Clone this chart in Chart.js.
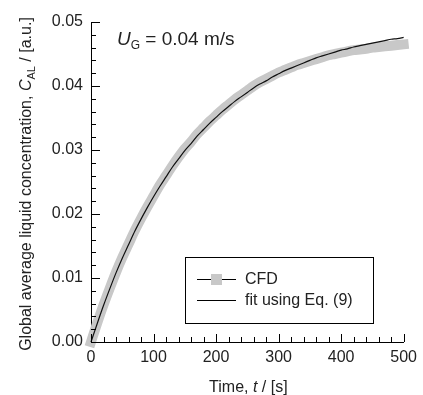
<!DOCTYPE html>
<html>
<head>
<meta charset="utf-8">
<script src="https://cdn.jsdelivr.net/npm/chart.js@4.4.0/dist/chart.umd.min.js"></script>
<style>
  html, body { margin: 0; padding: 0; background: #fff; }
  canvas { display: block; }
</style>
</head>
<body>
<canvas id="grafico" width="423" height="395"></canvas>
<script>
// === DADOS ===
const tempo = [0, 10, 20, 30, 40, 50, 60, 70, 80, 90, 100, 110, 120, 130, 140, 150, 160, 170, 180, 190,
  200, 210, 220, 230, 240, 250, 260, 270, 280, 290, 300, 310, 320, 330, 340, 350, 360, 370, 380, 390,
  400, 410, 420, 430, 440, 450, 460, 470, 480, 490, 500];

const cfd = [0.0000, 0.0030, 0.0058, 0.0084, 0.0109, 0.0132, 0.0153, 0.0174, 0.0193, 0.0211,
  0.0228, 0.0245, 0.0260, 0.0275, 0.0289, 0.0302, 0.0313, 0.0325, 0.0335, 0.0345,
  0.0354, 0.0363, 0.0371, 0.0379, 0.0386, 0.0393, 0.0400, 0.0406, 0.0411, 0.0416,
  0.0421, 0.0425, 0.0429, 0.0433, 0.0436, 0.0439, 0.0442, 0.0445, 0.0448, 0.0450,
  0.0452, 0.0454, 0.0456, 0.0457, 0.0458, 0.0460, 0.0461, 0.0462, 0.0463, 0.0464, 0.0465];

const ajuste = [0.0000, 0.0029, 0.0057, 0.0083, 0.0108, 0.0131, 0.0152, 0.0173, 0.0192, 0.0210,
  0.0227, 0.0243, 0.0258, 0.0273, 0.0286, 0.0299, 0.0310, 0.0322, 0.0332, 0.0342,
  0.0351, 0.0360, 0.0368, 0.0376, 0.0383, 0.0390, 0.0397, 0.0403, 0.0408, 0.0414,
  0.0419, 0.0424, 0.0428, 0.0432, 0.0436, 0.0440, 0.0444, 0.0447, 0.0450, 0.0453,
  0.0456, 0.0458, 0.0461, 0.0463, 0.0465, 0.0467, 0.0469, 0.0471, 0.0473, 0.0474, 0.0476];

const marcasX = [0, 20, 40, 60, 80, 100, 120, 140, 160, 180, 200, 220, 240, 260, 280, 300,
  320, 340, 360, 380, 400, 420, 440, 460, 480, 500];
const marcasY = [0, 0.002, 0.004, 0.006, 0.008, 0.01, 0.012, 0.014, 0.016, 0.018, 0.02,
  0.022, 0.024, 0.026, 0.028, 0.03, 0.032, 0.034, 0.036, 0.038, 0.04,
  0.042, 0.044, 0.046, 0.048, 0.05];

const legendas = ["CFD", "fit using Eq. (9)"];

const FONTE = '"Liberation Sans", Arial, sans-serif';
const CINZA = "#c8c8c8";

// === helper: escreve trechos com estilos diferentes ===
function escreveTrechos(ctx, trechos, x, y) {
  let px = x;
  trechos.forEach((t) => {
    ctx.font = (t.italic ? "italic " : "") + t.size + "px " + FONTE;
    ctx.fillText(t.text, px, y + (t.dy || 0));
    px += ctx.measureText(t.text).width;
  });
  return px - x;
}
function larguraTrechos(ctx, trechos) {
  let w = 0;
  trechos.forEach((t) => {
    ctx.font = (t.italic ? "italic " : "") + t.size + "px " + FONTE;
    w += ctx.measureText(t.text).width;
  });
  return w;
}

// === plugin: marcas internas, títulos, anotação e legenda ===
const extras = {
  id: "extras",
  afterDraw(chart) {
    const { ctx, scales: { x, y } } = chart;
    ctx.save();
    ctx.strokeStyle = "#000";
    ctx.lineWidth = 1;
    ctx.beginPath();
    marcasX.forEach((v) => {
      const px = Math.round(x.getPixelForValue(v)) + 0.5;
      const len = v % 100 === 0 ? 8 : 5;
      ctx.moveTo(px, y.bottom);
      ctx.lineTo(px, y.bottom - len);
    });
    marcasY.forEach((v, i) => {
      const py = Math.round(y.getPixelForValue(v)) + 0.5;
      const len = i % 5 === 0 ? 9 : 5;
      ctx.moveTo(x.left, py);
      ctx.lineTo(x.left + len, py);
    });
    ctx.stroke();

    ctx.fillStyle = "#222";
    ctx.textBaseline = "alphabetic";
    ctx.textAlign = "left";

    // título eixo x
    const tx = [
      { text: "Time, ", size: 16 },
      { text: "t", size: 16, italic: true },
      { text: " / [s]", size: 16 },
    ];
    const wx = larguraTrechos(ctx, tx);
    escreveTrechos(ctx, tx, (x.left + x.right) / 2 - wx / 2 + 1, 392);

    // título eixo y
    const ty = [
      { text: "Global average liquid concentration, ", size: 16 },
      { text: "C", size: 16, italic: true },
      { text: "AL", size: 11, dy: 4 },
      { text: " / [a.u.]", size: 16 },
    ];
    const wy = larguraTrechos(ctx, ty);
    ctx.save();
    ctx.translate(31, 184);
    ctx.rotate(-Math.PI / 2);
    escreveTrechos(ctx, ty, -wy / 2, 0);
    ctx.restore();

    // anotação
    escreveTrechos(ctx, [
      { text: "U", size: 19, italic: true },
      { text: "G", size: 12, dy: 4 },
      { text: " = 0.04 m/s", size: 19 },
    ], 117, 45);

    // legenda
    const bx = 185.5, by = 257.5, bw = 188, bh = 66;
    ctx.fillStyle = "#fff";
    ctx.fillRect(bx, by, bw, bh);
    ctx.strokeStyle = "#000";
    ctx.strokeRect(bx, by, bw, bh);
    const linhas = [279.5, 300.5];
    ctx.beginPath();
    linhas.forEach((ly) => {
      ctx.moveTo(197, ly);
      ctx.lineTo(236, ly);
    });
    ctx.stroke();
    ctx.fillStyle = CINZA;
    ctx.fillRect(211, 274, 11, 11);
    ctx.fillStyle = "#222";
    ctx.font = "16px " + FONTE;
    ctx.textBaseline = "middle";
    legendas.forEach((t, i) => ctx.fillText(t, 245, linhas[i]));
    ctx.restore();
  },
};

new Chart(document.getElementById("grafico"), {
  type: "line",
  data: {
    datasets: [
      {
        label: legendas[0],
        data: tempo.map((t, i) => ({ x: t, y: cfd[i] })),
        borderColor: CINZA,
        backgroundColor: CINZA,
        borderWidth: 10,
        borderCapStyle: "square",
        pointRadius: 0,
        cubicInterpolationMode: "monotone",
        clip: 10,
        order: 2,
      },
      {
        label: legendas[1],
        data: tempo.map((t, i) => ({ x: t, y: ajuste[i] })),
        borderColor: "#111",
        borderWidth: 1.2,
        pointRadius: 0,
        cubicInterpolationMode: "monotone",
        clip: 10,
        order: 1,
      },
    ],
  },
  options: {
    responsive: false,
    animation: false,
    events: [],
    layout: { padding: { left: 0, right: 15, top: 22, bottom: 0 } },
    plugins: { legend: { display: false }, tooltip: { enabled: false } },
    scales: {
      x: {
        type: "linear",
        min: 0,
        max: 500,
        afterFit: (s) => { s.height = 53; },
        grid: { display: false, drawTicks: false },
        border: { display: true, color: "#000", width: 1 },
        ticks: { stepSize: 100, padding: 6, color: "#222", font: { family: FONTE, size: 16 } },
      },
      y: {
        type: "linear",
        min: 0,
        max: 0.05,
        afterFit: (s) => { s.width = 91; },
        grid: { display: false, drawTicks: false },
        border: { display: true, color: "#000", width: 1 },
        ticks: {
          stepSize: 0.01,
          padding: 8,
          color: "#222",
          font: { family: FONTE, size: 16 },
          callback: (v) => v.toFixed(2),
        },
      },
    },
  },
  plugins: [extras],
});
</script>
</body>
</html>
